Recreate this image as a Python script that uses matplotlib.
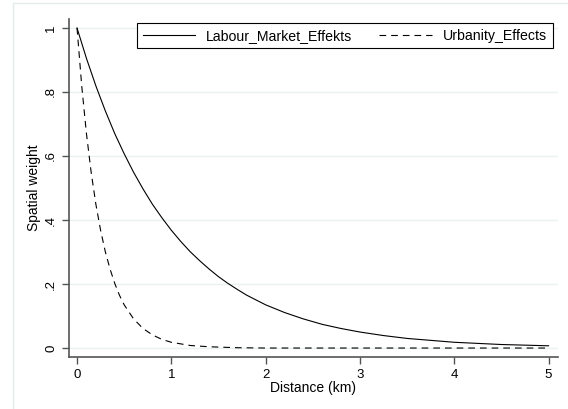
import matplotlib
matplotlib.use("Agg")
import matplotlib.pyplot as plt
from matplotlib.patches import Rectangle

plt.rcParams["font.family"] = ["Liberation Sans", "DejaVu Sans"]

# distance (km) and spatial weights
dist_labour = [0, 0.1, 0.2, 0.3, 0.4, 0.5, 0.6, 0.7, 0.8, 0.9, 1.0, 1.1, 1.2, 1.3, 1.4,
               1.5, 1.6, 1.7, 1.8, 1.9, 2.0, 2.2, 2.4, 2.6, 2.8, 3.0, 3.25, 3.5, 3.75,
               4.0, 4.5, 5.0]
labour = [1.000, 0.905, 0.819, 0.741, 0.670, 0.607, 0.549, 0.497, 0.449, 0.407, 0.368,
          0.333, 0.301, 0.273, 0.247, 0.223, 0.202, 0.183, 0.165, 0.150, 0.135, 0.111,
          0.091, 0.074, 0.061, 0.050, 0.039, 0.030, 0.024, 0.018, 0.011, 0.007]

dist_urban = [0, 0.05, 0.1, 0.15, 0.2, 0.25, 0.3, 0.35, 0.4, 0.45, 0.5, 0.6, 0.7, 0.8,
              0.9, 1.0, 1.2, 1.4, 1.7, 2.0, 3.0, 4.0, 5.0]
urban = [1.000, 0.819, 0.670, 0.549, 0.449, 0.368, 0.301, 0.247, 0.202, 0.165, 0.135,
         0.091, 0.061, 0.041, 0.027, 0.018, 0.008, 0.004, 0.001, 0.0, 0.0, 0.0, 0.0]

xticks = [0, 1, 2, 3, 4, 5]
yticks = [0, 0.2, 0.4, 0.6, 0.8, 1.0]
ytick_labels = ["0", ".2", ".4", ".6", ".8", "1"]

W, H = 568, 409
fig = plt.figure(figsize=(W / 100, H / 100), dpi=100)
fig.patches.append(Rectangle((13 / W, -0.1), 1.2, (H - 3) / H + 0.1, transform=fig.transFigure,
                             fill=False, edgecolor="#e4ecee", linewidth=1))
ax = fig.add_axes([69 / W, 1 - 357 / H, (558 - 69) / W, (357 - 19) / H])

ax.plot(dist_labour, labour, color="black", lw=0.8, label="Labour_Market_Effekts")
ax.plot(dist_urban, urban, color="black", lw=0.8, dashes=(6, 4.5), label="Urbanity_Effects")

ax.set_xlim(-0.085, 5.1)
ax.set_ylim(-0.028, 1.028)
ax.set_xticks(xticks)
ax.set_yticks(yticks)
ax.set_yticklabels(ytick_labels, rotation=90, va="center")
ax.grid(axis="y", color="#eaf2f3", lw=1)
ax.set_axisbelow(True)

for s in ["top", "right"]:
    ax.spines[s].set_visible(False)
for s in ["left", "bottom"]:
    ax.spines[s].set_color("#555555")
    ax.spines[s].set_linewidth(1.2)
ax.tick_params(colors="#555555", labelcolor="black", labelsize=9.5, length=5, width=1, pad=3.5)

ax.set_xlabel("Distance (km)", fontsize=10, labelpad=0)
ax.set_ylabel("Spatial weight", fontsize=10)
ax.yaxis.set_label_coords(-0.057, 0.5)

leg = ax.legend(ncol=2, loc="upper right", bbox_to_anchor=(553 / W, 1 - 23 / H),
                bbox_transform=fig.transFigure, borderaxespad=0, fontsize=10.2,
                fancybox=False, edgecolor="black", framealpha=1, handlelength=3.7,
                columnspacing=1.9, borderpad=0.4, handletextpad=0.8)
leg.get_frame().set_linewidth(0.8)

fig.savefig("out.png", dpi=100)
